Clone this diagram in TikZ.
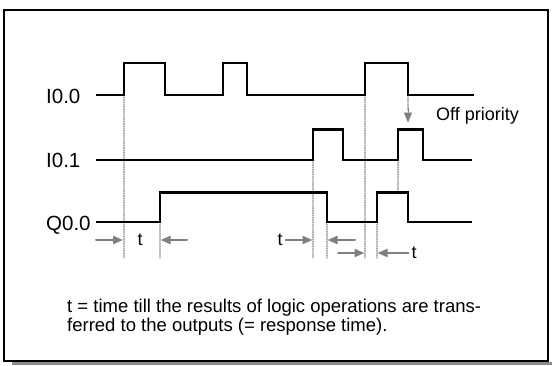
\documentclass[tikz,border=0pt]{standalone}
\usepackage{fontspec}
\setmainfont{Liberation Sans}
\usepackage{tikz}
\usetikzlibrary{arrows.meta,calc}

\tikzset{
  sig/.style={line width=2.8pt,line join=miter,line cap=butt},
  dotln/.style={gray!65,line width=1.1pt,dash pattern=on 1pt off 1.4pt},
  tarr/.style={color=black!50,line width=2pt,-{Triangle[length=10pt,width=8pt]}},
  siglbl/.style={anchor=base west,inner sep=0pt,font=\fontsize{20.5}{22}\selectfont},
  tlbl/.style={inner sep=0pt,font=\fontsize{18}{20}\selectfont}
}

\begin{document}
\begin{tikzpicture}[line cap=round,line join=round,x=1pt,y=-1pt]
\useasboundingbox (0,0) rectangle (552,365);
% frame with shadow
\draw[black!45,line width=3pt,line cap=butt] (12,363.3) -- (552,363.3);
\draw[line width=2pt,line cap=butt,line join=miter] (4,10) rectangle (548,361);
% dotted markers
\draw[dotln] (124,97) -- (124,258);
\draw[dotln] (160,224) -- (160,258);
\draw[dotln] (313,162) -- (313,258);
\draw[dotln] (327,224) -- (327,258);
\draw[dotln] (365,97) -- (365,258);
\draw[dotln] (377,224) -- (377,258);
\draw[dotln] (398,162) -- (398,191);
\draw[dotln] (408,97) -- (408,110);
\draw[tarr,line width=0.1pt] (408,108) -- (408,122.5);
% signals
\draw[sig] (96,95) -- (124,95) -- (124,63) -- (165,63) -- (165,95) -- (223,95) -- (223,63) -- (247,63) -- (247,95)
  -- (365,95) -- (365,63) -- (408,63) -- (408,95) -- (474,95);
\draw[sig] (96,160) -- (313,160) -- (313,129.5) -- (343,129.5) -- (343,160) -- (398,160) -- (398,129.5)
  -- (423,129.5) -- (423,160) -- (472,160);
\draw[sig] (96,222) -- (160,222) -- (160,192.5) -- (327,192.5) -- (327,222) -- (377,222) -- (377,192.5)
  -- (408,192.5) -- (408,222) -- (472,222);
% labels
\node[siglbl] (i00) at (46,103) {I0.0};
\node[siglbl] (i01) at (46,167) {I0.1};
\node[siglbl] (q00) at (46,230) {Q0.0};
\node[tlbl,anchor=base west] (offprio) at (436,120) {Off priority};
% response times
\node[tlbl] (t1) at (140,240) {t};
\node[tlbl] (t2) at (280,240) {t};
\node[tlbl] (t3) at (414,253) {t};
\draw[tarr] (96,240) -- (123,240);
\draw[tarr] (187,240) -- (160.5,240);
\draw[tarr] (t2.east) ++(3,0) -- (312.5,240);
\draw[tarr] (355,240) -- (327.5,240);
\draw[tarr] (338,253) -- (364.5,253);
\draw[tarr] (t3.west) ++(-3,0) -- (377.5,253);
% note
\node[tlbl,anchor=base west,align=left,font=\fontsize{18.5}{19}\selectfont] (note) at (67,331.7)
  {t = time till the results of logic operations are trans-\\ferred to the outputs (= response time).};
\end{tikzpicture}
\end{document}
